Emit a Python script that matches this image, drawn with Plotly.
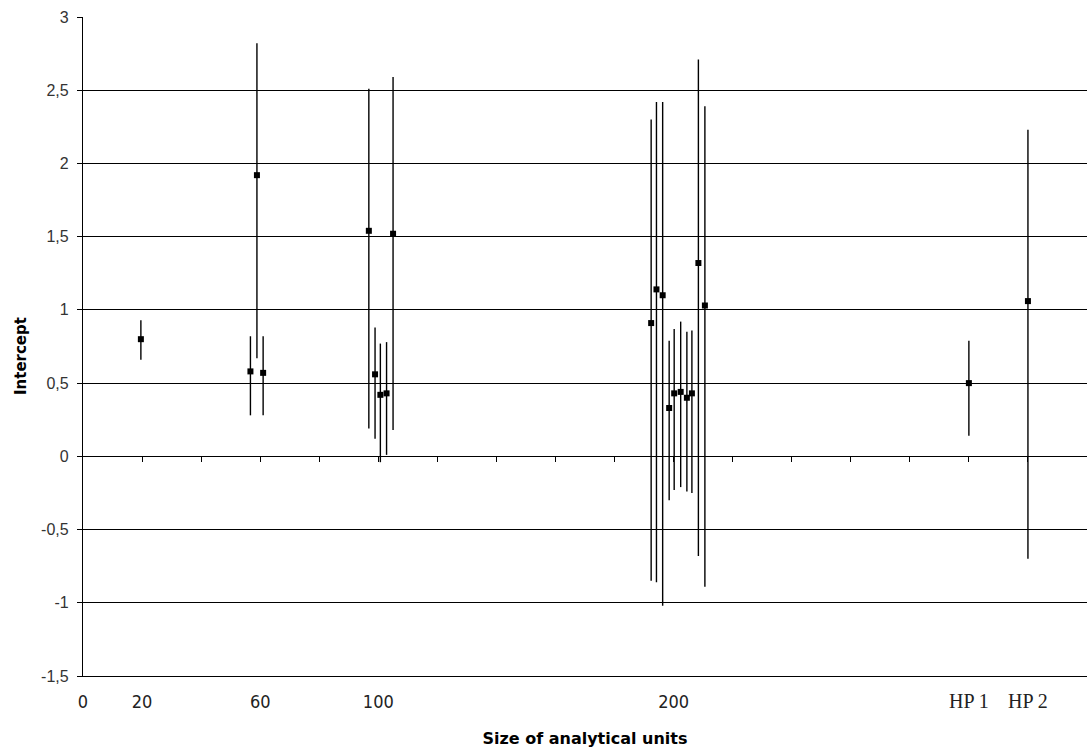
import plotly.graph_objects as go

# ---- data ----
unit_size = [19.6, 56.7, 58.9, 61.0,
             96.8, 98.9, 100.7, 102.8, 105.0,
             192.4, 194.2, 196.3, 198.5, 200.2, 202.4, 204.5, 206.2, 208.4, 210.6,
             300.0, 320.0]
intercept = [0.80, 0.58, 1.92, 0.57,
             1.54, 0.56, 0.42, 0.43, 1.52,
             0.91, 1.14, 1.10, 0.33, 0.43, 0.44, 0.40, 0.43, 1.32, 1.03,
             0.50, 1.06]
ci_upper = [0.93, 0.82, 2.82, 0.82,
            2.51, 0.88, 0.77, 0.78, 2.59,
            2.30, 2.42, 2.42, 0.79, 0.87, 0.92, 0.85, 0.86, 2.71, 2.39,
            0.79, 2.23]
ci_lower = [0.66, 0.28, 0.67, 0.28,
            0.19, 0.12, -0.04, 0.01, 0.18,
            -0.85, -0.86, -1.02, -0.30, -0.23, -0.21, -0.24, -0.25, -0.68, -0.89,
            0.14, -0.70]

x_tick_vals = [0, 20, 60, 100, 200, 300, 320]
x_tick_text = ["0", "20", "60", "100", "200", "HP 1", "HP 2"]
x_minor_ticks = list(range(20, 341, 20))
y_tick_vals = [-1.5, -1, -0.5, 0, 0.5, 1, 1.5, 2, 2.5, 3]
y_tick_text = ["-1,5", "-1", "-0,5", "0", "0,5", "1", "1,5", "2", "2,5", "3"]

serif = "Liberation Serif, Times New Roman, serif"
x_text = [f'<span style="font-family:{serif};font-size:20px">{t}</span>' if t.startswith("HP") else t
          for t in x_tick_text]

err_plus = [u - v for u, v in zip(ci_upper, intercept)]
err_minus = [v - l for v, l in zip(intercept, ci_lower)]

fig = go.Figure()
fig.add_trace(go.Scatter(
    x=unit_size, y=intercept, mode="markers",
    marker=dict(symbol="square", size=6, color="black"),
    error_y=dict(type="data", symmetric=False, array=err_plus, arrayminus=err_minus,
                 color="black", thickness=1.4, width=0),
    showlegend=False, hoverinfo="x+y",
))
# helper trace so the zero-line tick axis is drawn
fig.add_trace(go.Scatter(x=[0], y=[None], xaxis="x2", showlegend=False, hoverinfo="skip"))

fig.update_layout(
    width=1087, height=753,
    margin=dict(l=83, r=0, t=17, b=77),
    paper_bgcolor="white", plot_bgcolor="white",
    xaxis=dict(
        range=[0, 340], tickmode="array", tickvals=x_tick_vals, ticktext=x_text,
        showgrid=False, zeroline=False, showline=True, linecolor="black", linewidth=1.3,
        ticks="", ticklabelstandoff=9, automargin=False,
        tickfont=dict(family="Liberation Sans Narrow, DejaVu Sans Condensed, Liberation Sans, sans-serif",
                      size=18, color="#222"),
        title=dict(text="<b>Size of analytical units</b>", standoff=22,
                   font=dict(family="DejaVu Sans, Verdana, sans-serif", size=16, color="black")),
    ),
    xaxis2=dict(
        range=[0, 340], overlaying="x", anchor="free", position=1/3, side="bottom",
        tickmode="array", tickvals=x_minor_ticks, ticks="outside", ticklen=5,
        tickwidth=1.3, tickcolor="black", showticklabels=False,
        showgrid=False, zeroline=False, showline=False, automargin=False,
    ),
    yaxis=dict(
        range=[-1.5, 3], tickmode="array", tickvals=y_tick_vals, ticktext=y_tick_text,
        showgrid=True, gridcolor="black", gridwidth=1.3,
        zeroline=True, zerolinecolor="black", zerolinewidth=1.3,
        showline=True, linecolor="black", linewidth=1.3,
        ticks="outside", ticklen=5, tickcolor="black", tickwidth=1.3, ticklabelstandoff=5,
        automargin=False,
        tickfont=dict(family="Liberation Sans, Arial, sans-serif", size=16, color="#333"),
        title=dict(text="<b>Intercept</b>&nbsp;&nbsp;&nbsp;&nbsp;", standoff=10,
                   font=dict(family="DejaVu Sans, Verdana, sans-serif", size=15, color="black")),
    ),
)

fig.write_html("out.html", config={"displayModeBar": False},
               post_script="document.body.style.margin='0';")
